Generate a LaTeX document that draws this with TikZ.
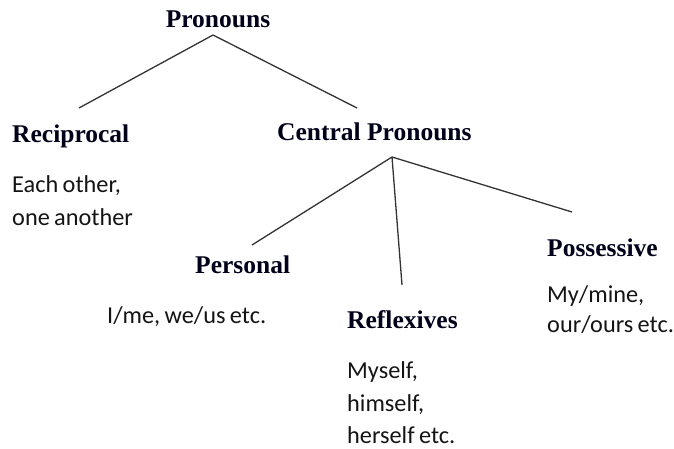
\documentclass[tikz,border=0pt]{standalone}
\usepackage{fontspec}
\setmainfont{Liberation Serif}
\newfontfamily\labelsans[WordSpace=0.8]{Carlito}
\begin{document}
\begin{tikzpicture}[x=1pt,y=-1pt,
  head/.style={anchor=base west,inner sep=0pt,font=\fontsize{25.5}{30}\selectfont\bfseries,text=black!90!blue},
  ex/.style={anchor=base west,inner sep=0pt,font=\labelsans\fontsize{24.3}{29}\selectfont,text=black!92},
  branch/.style={draw=black!80,line width=1.3pt}]
\useasboundingbox (0,0) rectangle (674,449);
% headings
\node[head,anchor=base] (pron) at (218,28) {Pronouns};
\node[head] (recip) at (12,143) {Reciprocal};
\node[head] (central) at (277,141) {Central Pronouns};
\node[head] (pers) at (195,273) {Personal};
\node[head] (refl) at (347,328) {Reflexives};
\node[head] (poss) at (547,256) {Possessive};
% examples
\node[ex] (r1) at (12,193) {Each other,};
\node[ex] (r2) at (12,225) {one another};
\node[ex] (p1) at (107,323) {I/me, we/us etc.};
\node[ex] (f1) at (347,378) {Myself,};
\node[ex] (f2) at (347,411) {himself,};
\node[ex] (f3) at (347,443) {herself etc.};
\node[ex] (s1) at (547,302) {My/mine,};
\node[ex] (s2) at (547,332) {our/ours etc.};
% connector end points
\coordinate (a0) at (213,35);
\coordinate (a1) at (79,108);
\coordinate (a2) at (357,108);
\coordinate (b0) at (392,157);
\coordinate (b1) at (252,245);
\coordinate (b2) at (402,285);
\coordinate (b3) at (572,212);
\draw[branch] (a0) -- (a1);
\draw[branch] (a0) -- (a2);
\draw[branch] (b0) -- (b1);
\draw[branch] (b0) -- (b2);
\draw[branch] (b0) -- (b3);
\end{tikzpicture}
\end{document}
